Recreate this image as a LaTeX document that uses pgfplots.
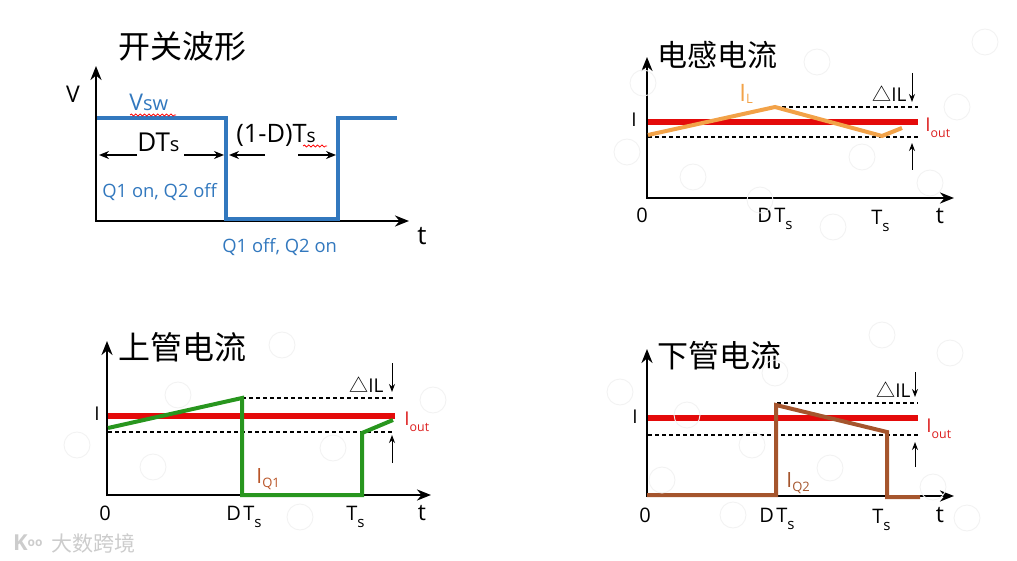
\documentclass[border=0pt]{standalone}
\usepackage{pgfplots}
\pgfplotsset{compat=1.18}
\usepackage{fontspec}
\setmainfont{Open Sans}
\newfontfamily\cjk{Noto Sans CJK SC}
\usetikzlibrary{arrows.meta,decorations.pathmorphing}
\definecolor{swblue}{RGB}{50,120,190}
\definecolor{ired}{RGB}{228,10,10}
\definecolor{ilorange}{RGB}{242,162,72}
\definecolor{qgreen}{RGB}{40,150,30}
\definecolor{qbrown}{RGB}{165,85,45}
\definecolor{q1lab}{RGB}{185,85,40}
\definecolor{labred}{RGB}{220,30,30}
\newcommand{\fs}[1]{\fontsize{#1}{#1}\selectfont}
\newcommand{\DTs}{D\kern1.2pt T\raisebox{-3.5pt}{\fs{7.5}s}}
\newcommand{\Ts}{T\raisebox{-3.5pt}{\fs{7.5}s}}
\newcommand{\Iout}{I\raisebox{-3pt}{\fs{6.2}out}}
\newcommand{\dIL}{{\cjk △}IL}
\begin{document}
\begin{tikzpicture}
\begin{axis}[width=508.5pt,height=280.5pt,scale only axis,
  xmin=0,xmax=1017,ymin=0,ymax=561,y dir=reverse,hide axis,clip=false]
\path (rel axis cs:0,0) rectangle (rel axis cs:1,1);
% faint watermark circles
\addplot[only marks, mark=o, mark size=6.5pt, color=gray!10, mark options={line width=0.45pt}] coordinates {
 (817,62) (643,83) (957,107) (627,152) (862,157) (693,177) (930,183) (760,200) (833,227) (985,42)
 (282,345) (178,395) (433,400) (77,445) (333,448) (153,467) (300,517)
 (882,335) (950,353) (775,373) (620,392) (687,415) (752,445) (830,468) (662,480) (933,487) (733,515) (967,518)};
% ===== Panel 1 =====
\addplot[black, line width=1.2pt, -{Stealth[length=7pt,width=5.5pt]}] coordinates {(96,222) (96,66)};
\addplot[black, line width=1.2pt, -{Stealth[length=7pt,width=5.5pt]}] coordinates {(95,221) (409,221)};
\addplot[swblue, line width=1.8pt] coordinates {(97,118) (226,118) (226,219) (338,219) (338,118) (397,118)};
\addplot[black, line width=0.8pt, -{Stealth[length=5pt,width=4pt]}] coordinates {(137,155) (99,155)};
\addplot[black, line width=0.8pt, -{Stealth[length=5pt,width=4pt]}] coordinates {(184,155) (224,155)};
\addplot[black, line width=0.8pt, -{Stealth[length=5pt,width=4pt]}] coordinates {(265,155) (229,155)};
\addplot[black, line width=0.8pt, -{Stealth[length=5pt,width=4pt]}] coordinates {(298,155) (336,155)};
\node[anchor=west, font=\cjk\fs{16}] at (axis cs:111,46) {开关波形};
\node[anchor=base, font=\fs{11.5}] at (axis cs:73,103) {V};
\node[anchor=base, font=\fs{13}] at (axis cs:422,245) {t};
\node[anchor=base west, inner sep=0pt, text=swblue, font=\fs{11.5}] at (axis cs:129,111) {V{\fs{10}sw}};
\draw[red, line width=0.4pt, decorate, decoration={snake, amplitude=0.5pt, segment length=2.2pt}] (axis cs:130,115) -- (axis cs:176,115);
\node[anchor=base west, inner sep=0pt, font=\fs{13}] at (axis cs:137,152) {DT{\fs{10}s}};
\node[anchor=base west, inner sep=0pt, font=\fs{12.7}] at (axis cs:236,143) {(1-D)T{\fs{9.5}s}};
\draw[red, line width=0.4pt, decorate, decoration={snake, amplitude=0.5pt, segment length=2.2pt}] (axis cs:303,146) -- (axis cs:327,146);
\node[anchor=base west, inner sep=0pt, text=swblue, font=\fs{9.2}] at (axis cs:102,198) {Q1 on, Q2 off};
\node[anchor=base west, inner sep=0pt, text=swblue, font=\fs{9.2}] at (axis cs:222,253) {Q1 off, Q2 on};
% ===== Panel 2 =====
\addplot[black, line width=1.2pt, -{Stealth[length=7pt,width=5.5pt]}] coordinates {(647,199) (647,57)};
\addplot[black, line width=1.2pt, -{Stealth[length=7pt,width=5.5pt]}] coordinates {(646,198) (954,198)};
\addplot[ired, line width=2.6pt] coordinates {(648,122) (918,122)};
\addplot[black, line width=0.8pt, dash pattern=on 2pt off 1.5pt] coordinates {(775,107) (918,107)};
\addplot[black, line width=0.8pt, dash pattern=on 2pt off 1.5pt] coordinates {(648,137) (918,137)};
\addplot[ilorange, line width=2pt] coordinates {(648,135) (775,107) (882,136) (902,128)};
\addplot[black, line width=0.5pt, -{Stealth[length=4pt,width=3pt]}] coordinates {(912,73) (912,102)};
\addplot[black, line width=0.5pt, -{Stealth[length=4pt,width=3pt]}] coordinates {(912,170) (912,143)};
\node[anchor=west, font=\cjk\fs{15}] at (axis cs:650,55) {电感电流};
\node[anchor=base, font=\fs{9.5}] at (axis cs:634,127) {I};
\node[anchor=base west, inner sep=0pt, text=ilorange, font=\fs{12}] at (axis cs:739,102) {I\raisebox{-1pt}{\fs{6.5}L}};
\node[anchor=base west, inner sep=0pt, font=\fs{9.5}] at (axis cs:872,102) {\dIL};
\node[anchor=base west, inner sep=0pt, text=labred, font=\fs{9.5}] at (axis cs:925,132) {\Iout};
\node[anchor=base, font=\fs{10}] at (axis cs:642,223) {0};
\node[anchor=base west, inner sep=0pt, font=\fs{10}] at (axis cs:757,223) {\DTs};
\node[anchor=base west, inner sep=0pt, font=\fs{10}] at (axis cs:871,225) {\Ts};
\node[anchor=base, font=\fs{11.5}] at (axis cs:940,224) {t};
% ===== Panel 3 =====
\addplot[black, line width=1.2pt, -{Stealth[length=7pt,width=5.5pt]}] coordinates {(107,496) (107,341)};
\addplot[black, line width=1.2pt, -{Stealth[length=7pt,width=5.5pt]}] coordinates {(106,495) (431,495)};
\addplot[ired, line width=2.6pt] coordinates {(108,416) (395,416)};
\addplot[black, line width=0.8pt, dash pattern=on 2pt off 1.5pt] coordinates {(242,398) (395,398)};
\addplot[black, line width=0.8pt, dash pattern=on 2pt off 1.5pt] coordinates {(108,432) (395,432)};
\addplot[qgreen, line width=2pt] coordinates {(108,428) (242,398) (242,495) (362,495) (362,433) (393,420)};
\addplot[black, line width=0.5pt, -{Stealth[length=4pt,width=3pt]}] coordinates {(392,363) (392,392)};
\addplot[black, line width=0.5pt, -{Stealth[length=4pt,width=3pt]}] coordinates {(392,463) (392,435)};
\node[anchor=west, font=\cjk\fs{16}] at (axis cs:111,347) {上管电流};
\node[anchor=base, font=\fs{9.5}] at (axis cs:97,420) {I};
\node[anchor=base west, inner sep=0pt, text=q1lab, font=\fs{10.5}] at (axis cs:256,483) {I\raisebox{-2pt}{\fs{6.5}Q1}};
\node[anchor=base west, inner sep=0pt, font=\fs{9.5}] at (axis cs:349,392) {\dIL};
\node[anchor=base west, inner sep=0pt, text=labred, font=\fs{9.5}] at (axis cs:404,425) {\Iout};
\node[anchor=base, font=\fs{10}] at (axis cs:105,520) {0};
\node[anchor=base west, inner sep=0pt, font=\fs{10}] at (axis cs:226,520) {\DTs};
\node[anchor=base west, inner sep=0pt, font=\fs{10}] at (axis cs:346,520) {\Ts};
\node[anchor=base, font=\fs{11.5}] at (axis cs:422,520) {t};
% ===== Panel 4 =====
\addplot[black, line width=1.2pt, -{Stealth[length=7pt,width=5.5pt]}] coordinates {(647,497) (647,349)};
\addplot[black, line width=1.2pt, -{Stealth[length=7pt,width=5.5pt]}] coordinates {(646,496) (954,496)};
\addplot[ired, line width=2.6pt] coordinates {(648,418) (918,418)};
\addplot[black, line width=0.8pt, dash pattern=on 2pt off 1.5pt] coordinates {(777,403) (918,403)};
\addplot[black, line width=0.8pt, dash pattern=on 2pt off 1.5pt] coordinates {(648,435) (918,435)};
\addplot[qbrown, line width=2pt] coordinates {(647,495) (776,495) (776,405) (887,432) (887,497) (920,497)};
\addplot[black, line width=0.5pt, -{Stealth[length=4pt,width=3pt]}] coordinates {(915,372) (915,397)};
\addplot[black, line width=0.5pt, -{Stealth[length=4pt,width=3pt]}] coordinates {(915,467) (915,442)};
\node[anchor=west, font=\cjk\fs{15.5}] at (axis cs:650,356) {下管电流};
\node[anchor=base, font=\fs{9.5}] at (axis cs:635,423) {I};
\node[anchor=base west, inner sep=0pt, text=qbrown, font=\fs{10.5}] at (axis cs:786,487) {I\raisebox{-2pt}{\fs{6.5}Q2}};
\node[anchor=base west, inner sep=0pt, font=\fs{9.5}] at (axis cs:876,397) {\dIL};
\node[anchor=base west, inner sep=0pt, text=labred, font=\fs{9.5}] at (axis cs:926,432) {\Iout};
\node[anchor=base, font=\fs{10}] at (axis cs:645,522) {0};
\node[anchor=base west, inner sep=0pt, font=\fs{10}] at (axis cs:759,522) {\DTs};
\node[anchor=base west, inner sep=0pt, font=\fs{10}] at (axis cs:872,523) {\Ts};
\node[anchor=base, font=\fs{11.5}] at (axis cs:940,522) {t};
% watermark
\node[anchor=west, text=gray!40, font=\cjk\fs{10.5}] at (axis cs:44,543) {大数跨境};
\node[anchor=west, text=gray!40, font=\bfseries\fs{11}] at (axis cs:6,543) {K\raisebox{2pt}{\fs{6}oo}};
\end{axis}
\end{tikzpicture}
\end{document}
